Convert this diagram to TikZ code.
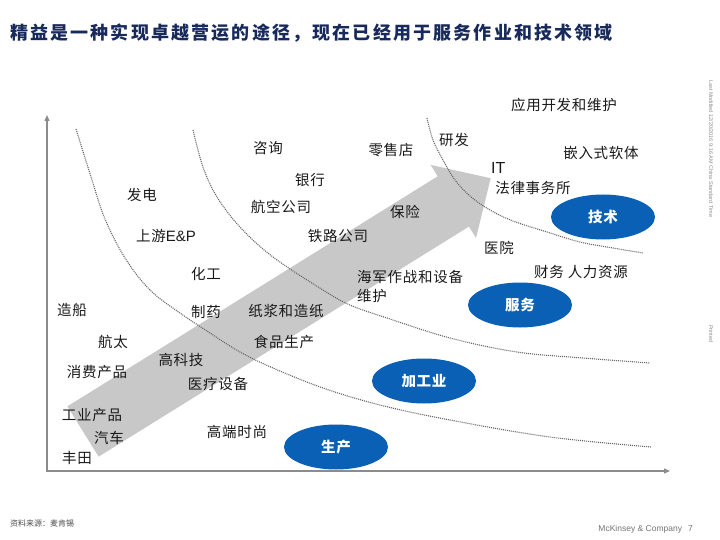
\documentclass[tikz,border=0pt]{standalone}
\usepackage{fontspec}
\setmainfont{Noto Sans CJK SC}
\newfontfamily\cjklbl[LetterSpace=5]{Noto Sans CJK SC}
\newfontfamily\cjkttl[LetterSpace=12]{Noto Sans CJK SC}
\newfontfamily\arialfont{Liberation Sans}
\usetikzlibrary{shapes.geometric, arrows.meta, positioning, calc}
\definecolor{mckblue}{RGB}{10,96,180}
\definecolor{mcknavy}{RGB}{24,42,92}
\definecolor{bandgray}{RGB}{200,200,200}
\definecolor{axisgray}{RGB}{140,140,140}
\tikzset{
  sector/.style={ellipse, fill=mckblue, text=white, inner sep=0pt,
                 minimum width=104pt, minimum height=45pt,
                 font=\cjklbl\fontsize{14.5}{16}\selectfont\bfseries},
  ind/.style={inner sep=0pt, text=black!90,
              font=\cjklbl\fontsize{14.5}{19}\selectfont},
  border/.style={draw=black!60, line width=1.1pt,
                 dash pattern=on 1pt off 1pt},
  axis/.style={draw=axisgray, line width=1.4pt,
               {Triangle[length=6pt,width=5pt]}-{Triangle[length=6pt,width=5pt]}},
  note/.style={inner sep=0pt, text=black!45,
               font=\arialfont\fontsize{5.5}{6}\selectfont}
}

\begin{document}
\begin{tikzpicture}[x=1pt, y=-1pt]
  \useasboundingbox (0,0) rectangle (720,540);

  % title
  \node[anchor=west, inner sep=0pt, text=mcknavy,
        font=\cjkttl\fontsize{18}{20}\selectfont\bfseries] (title) at (10,33)
    {精益是一种实现卓越营运的途径，现在已经用于服务作业和技术领域};

  % big grey arrow
  \begin{scope}[shift={(83,431.5)}, rotate=31.85]
    \fill[bandgray] (0,-29.6) -- (436,-29.6) -- (436,-43) -- (480,0)
      -- (436,43) -- (436,29.6) -- (0,29.6) -- cycle;
  \end{scope}

  % axes
  \coordinate (ytop) at (47,115);
  \coordinate (orig) at (47,471);
  \coordinate (xend) at (670,471);
  \draw[axis] (ytop) -- (orig) -- (xend);

  % dotted borders
  \draw[border] plot[smooth, tension=0.6] coordinates {(76,129) (92,180)
    (105,219) (125,258) (150,290) (180,313) (210,333) (240,352) (273,368)
    (323,388) (380,405) (450,420) (550,437) (651,447)};
  \draw[border] plot[smooth, tension=0.6] coordinates {(193,130) (203,167)
    (217,197) (240,227) (273,257) (323,290) (350,305) (387,318) (450,338)
    (517,352) (583,358) (650,363)};
  \draw[border] plot[smooth, tension=0.6] coordinates {(427,118) (433,140)
    (443,160) (455,180) (470,196) (490,210) (513,221) (547,232) (580,242)
    (613,248) (643,253)};

  % sectors
  \node[sector] (tech) at (603,217) {技术};
  \node[sector] (serv) at (520,305) {服务};
  \node[sector] (proc) at (424,381) {加工业};
  \node[sector] (prod) at (336,447) {生产};

  % industries
  \node[ind] (consult)  at (268,148) {咨询};
  \node[ind] (bank)     at (310,180) {银行};
  \node[ind] (power)    at (142,195) {发电};
  \node[ind] (airline)  at (281,207) {航空公司};
  \node[ind] (upstream) at (166,236)
    {上游{\arialfont\fontsize{15}{17}\selectfont E\&P}};
  \node[ind] (rail)     at (338,236) {铁路公司};
  \node[ind] (chem)     at (206,274) {化工};
  \node[ind, anchor=north west, align=left] (navy) at (357,270)
    {海军作战和设备\\维护};
  \node[ind] (ship)     at (72,310)  {造船};
  \node[ind] (pharma)   at (206,312) {制药};
  \node[ind] (paper)    at (286,311) {纸浆和造纸};
  \node[ind] (aero)     at (113,342) {航太};
  \node[ind] (food)     at (284,342) {食品生产};
  \node[ind] (hitech)   at (181,360) {高科技};
  \node[ind] (consumer) at (97,372)  {消费产品};
  \node[ind] (meddev)   at (218,384) {医疗设备};
  \node[ind] (indprod)  at (92,415)  {工业产品};
  \node[ind] (fashion)  at (237,432) {高端时尚};
  \node[ind] (auto)     at (109,438) {汽车};
  \node[ind] (toyota)   at (77,458)  {丰田};
  \node[ind] (retail)   at (391,150) {零售店};
  \node[ind] (rnd)      at (454,140) {研发};
  \node[ind] (appdev)   at (564,105) {应用开发和维护};
  \node[ind] (embsw)    at (601,153) {嵌入式软体};
  \node[ind, anchor=west, font=\arialfont\fontsize{16}{18}\selectfont]
    (it) at (491,168) {IT};
  \node[ind] (law)      at (533,188) {法律事务所};
  \node[ind] (insure)   at (405,212) {保险};
  \node[ind] (hospital) at (499,248) {医院};
  \node[ind] (finhr)    at (581,272) {财务 人力资源};

  % footer and side notes
  \node[anchor=west, inner sep=0pt, text=black!70,
        font=\fontsize{8}{9}\selectfont] (source) at (10,523)
    {资料来源：麦肯锡};
  \node[anchor=east, inner sep=0pt, text=black!55,
        font=\arialfont\fontsize{8.5}{10}\selectfont] (firm) at (693,529)
    {McKinsey \& Company\hspace{6pt}7};
  \node[note, anchor=west, rotate=-90] (modified) at (711,80)
    {Last Modified 12/20/2016 9:16 AM China Standard Time};
  \node[note, anchor=west, rotate=-90] (printed) at (711,325) {Printed};
\end{tikzpicture}
\end{document}
